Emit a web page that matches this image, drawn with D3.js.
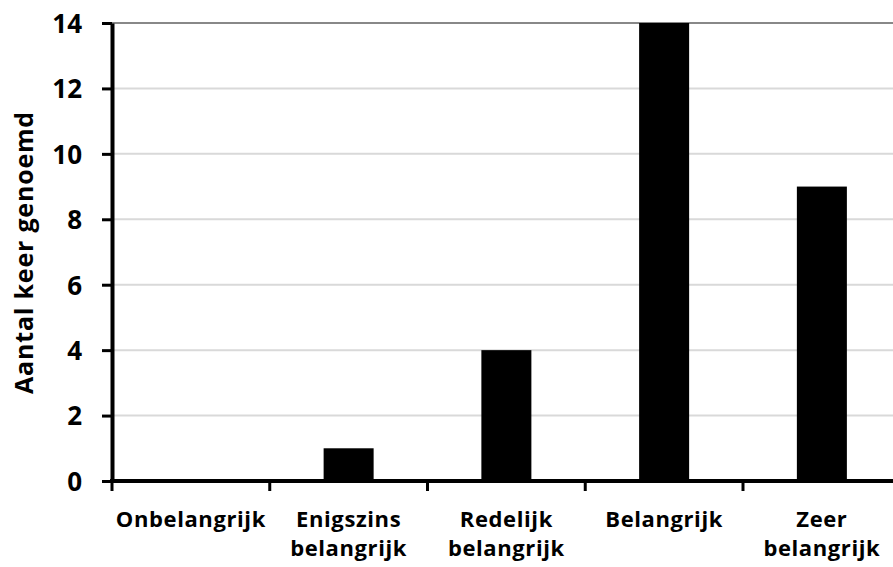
<!DOCTYPE html>
<html>
<head>
<meta charset="utf-8">
<script src="https://cdn.jsdelivr.net/npm/d3@7"></script>
<style>
  html, body { margin: 0; padding: 0; background: #fff; }
  svg { display: block; }
  text { font-family: "Open Sans", Lato, sans-serif; font-weight: 700; fill: #000; }
</style>
</head>
<body>
<svg id="chart" width="893" height="567"></svg>
<script>
// Hoe belangrijk: aantal keer genoemd per categorie
const categories = ["Onbelangrijk", "Enigszins belangrijk", "Redelijk belangrijk", "Belangrijk", "Zeer belangrijk"];
const counts = [0, 1, 4, 14, 9];
const yTicks = [0, 2, 4, 6, 8, 10, 12, 14];
const yTitle = "Aantal keer genoemd";

const svg = d3.select("#chart");
const plotLeft = 112, plotRight = 900.75, plotTop = 23, plotBottom = 481;

const x = d3.scaleBand()
  .domain(categories)
  .range([plotLeft, plotRight])
  .paddingInner(0.683)
  .paddingOuter(0.683 / 2);

const y = d3.scaleLinear().domain([0, 14]).range([plotBottom, plotTop]);

// gridlines
svg.append("g").selectAll("line")
  .data(yTicks.filter(d => d > 0))
  .join("line")
  .attr("x1", plotLeft).attr("x2", 893)
  .attr("y1", d => y(d)).attr("y2", d => y(d))
  .attr("stroke", d => d === 14 ? "#888" : "#d9d9d9")
  .attr("stroke-width", 2);

// bars
svg.append("g").selectAll("rect")
  .data(categories.map((c, i) => ({ c, v: counts[i] })))
  .join("rect")
  .attr("x", d => x(d.c))
  .attr("width", x.bandwidth())
  .attr("y", d => y(d.v))
  .attr("height", d => y(0) - y(d.v))
  .attr("fill", "#000");

// y axis
const yAxis = svg.append("g")
  .attr("transform", `translate(${plotLeft},0)`)
  .call(d3.axisLeft(y).tickValues(yTicks).tickSize(10).tickSizeOuter(0).tickPadding(20));
yAxis.select(".domain").attr("stroke", "#000").attr("stroke-width", 4);
yAxis.selectAll(".tick line").attr("stroke", "#000").attr("stroke-width", 3);
yAxis.selectAll(".tick text").style("font-size", "26px").attr("font-family", null).attr("dy", "0.36em");

// x axis baseline and category boundary ticks
svg.append("line")
  .attr("x1", plotLeft - 2).attr("x2", 893)
  .attr("y1", y(0)).attr("y2", y(0))
  .attr("stroke", "#000").attr("stroke-width", 4);

const gap = (x.step() - x.bandwidth()) / 2;
const bounds = categories.map(c => x(c) - gap).concat([x(categories[categories.length - 1]) + x.bandwidth() + gap]);
svg.append("g").selectAll("line")
  .data(bounds)
  .join("line")
  .attr("x1", d => d).attr("x2", d => d)
  .attr("y1", y(0)).attr("y2", y(0) + 10)
  .attr("stroke", "#000").attr("stroke-width", 3);

// category labels (wrapped on spaces)
const labels = svg.append("g").selectAll("text")
  .data(categories)
  .join("text")
  .attr("text-anchor", "middle")
  .style("font-size", "22px")
  .style("letter-spacing", "0.6px")
  .attr("transform", d => `translate(${x(d) + x.bandwidth() / 2},527)`);
labels.each(function (d) {
  const words = d.split(" ");
  d3.select(this).selectAll("tspan")
    .data(words)
    .join("tspan")
    .attr("x", 0)
    .attr("y", (w, i) => i * 29)
    .text(w => w);
});

// y axis title
svg.append("text")
  .attr("transform", `translate(33,252.5) rotate(-90)`)
  .attr("text-anchor", "middle")
  .style("font-size", "25px")
  .style("letter-spacing", "0.8px")
  .text(yTitle);
</script>
</body>
</html>
